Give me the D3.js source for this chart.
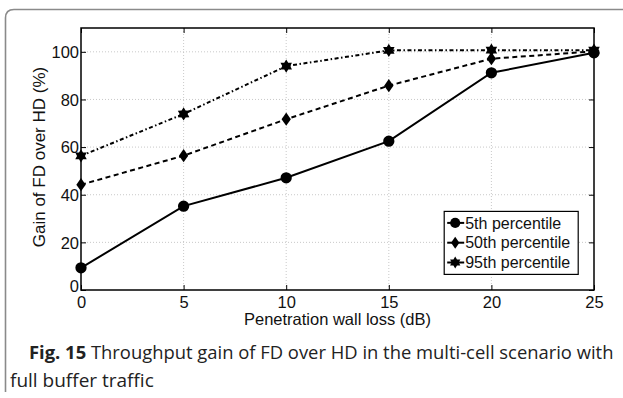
<!DOCTYPE html>
<html>
<head>
<script src="https://d3js.org/d3.v7.min.js"></script>
<style>
  body { margin: 0; background: #fff; }
  svg { display: block; }
</style>
</head>
<body>
<svg id="chart" width="623" height="398"></svg>
<script>
// data
var wallLoss = [0, 5, 10, 15, 20, 25];
var p5  = [9.3, 35.2, 47.1, 62.5, 91.2, 99.6];
var p50 = [44.2, 56.4, 71.7, 85.8, 97.1, 100.2];
var p95 = [56.3, 73.9, 94.0, 100.6, 100.7, 100.7];
var seriesNames = ["5th percentile", "50th percentile", "95th percentile"];
var xTicks = [0, 5, 10, 15, 20, 25];
var yTicks = [0, 20, 40, 60, 80, 100];

var svg = d3.select("#chart");
var font = "'Liberation Sans', Arial, sans-serif";

// outer frame (rounded top-left corner, cut off at right / bottom)
svg.append("path")
   .attr("d", "M5.5,392 L5.5,18 Q5.5,9.5 14,9.5 L623,9.5")
   .attr("fill", "none")
   .attr("stroke", "#8a8a8a")
   .attr("stroke-width", 1.6);

var margin = {left: 81, top: 28, right: 29, bottom: 108};
var w = 623 - margin.left - margin.right,
    h = 398 - margin.top - margin.bottom;

var x = d3.scaleLinear().domain([0, 25]).range([0, w]);
var y = d3.scaleLinear().domain([0, 110]).range([h, 0]);

var g = svg.append("g").attr("transform", "translate(" + margin.left + "," + margin.top + ")");

// grid
g.selectAll(".vgrid").data(xTicks.slice(1, -1)).enter().append("line")
  .attr("x1", d => x(d)).attr("x2", d => x(d))
  .attr("y1", 0).attr("y2", h)
  .attr("stroke", "#bbb").attr("stroke-width", 0.8).attr("stroke-dasharray", "1,2");
g.selectAll(".hgrid").data(yTicks.slice(1)).enter().append("line")
  .attr("x1", 0).attr("x2", w)
  .attr("y1", d => y(d)).attr("y2", d => y(d))
  .attr("stroke", "#bbb").attr("stroke-width", 0.8).attr("stroke-dasharray", "1,2");

// axes, ticks pointing inward
function styleAxis(sel) {
  sel.attr("font-family", font).attr("font-size", 16.5);
  sel.select(".domain").remove();
  sel.selectAll(".tick line").attr("stroke", "#000").attr("stroke-width", 1);
  sel.selectAll("text").attr("fill", "#111");
}
g.append("g").attr("transform", "translate(0," + h + ")")
  .call(d3.axisBottom(x).tickValues(xTicks).tickSizeInner(-5).tickSizeOuter(0).tickPadding(6))
  .call(styleAxis)
  .selectAll("text").attr("dy", "0.75em");
g.append("g")
  .call(d3.axisTop(x).tickValues(xTicks).tickSizeInner(-5).tickSizeOuter(0).tickFormat(""))
  .call(styleAxis);
g.append("g")
  .call(d3.axisLeft(y).tickValues(yTicks).tickSizeInner(-5).tickSizeOuter(0).tickPadding(2))
  .call(styleAxis)
  .selectAll("text").attr("dy", function(d) { return d === 0 ? "0.1em" : "0.35em"; });
g.append("g").attr("transform", "translate(" + w + ",0)")
  .call(d3.axisRight(y).tickValues(yTicks).tickSizeInner(-5).tickSizeOuter(0).tickFormat(""))
  .call(styleAxis);

g.append("rect").attr("width", w).attr("height", h)
  .attr("fill", "none").attr("stroke", "#000").attr("stroke-width", 1.5);

// markers
var hexagram = {
  draw: function(ctx, size) {
    var r = Math.sqrt(size) * 0.72, ri = r * 0.6;
    for (var i = 0; i < 12; i++) {
      var a = Math.PI / 6 * i - Math.PI / 2;
      var rr = i % 2 === 0 ? r : ri;
      if (i === 0) ctx.moveTo(rr * Math.cos(a), rr * Math.sin(a));
      else ctx.lineTo(rr * Math.cos(a), rr * Math.sin(a));
    }
    ctx.closePath();
  }
};
var diamond = {
  draw: function(ctx, size) {
    var r = Math.sqrt(size) * 0.62;
    ctx.moveTo(0, -r); ctx.lineTo(r * 0.7, 0); ctx.lineTo(0, r); ctx.lineTo(-r * 0.7, 0); ctx.closePath();
  }
};

var series = [
  {name: seriesNames[0], values: p5,  dash: null,            sym: d3.symbolCircle, size: 100},
  {name: seriesNames[1], values: p50, dash: "5,3.5",         sym: diamond,         size: 115},
  {name: seriesNames[2], values: p95, dash: "4,2.5,1.5,2.5", sym: hexagram,        size: 85}
];

var line = d3.line().x((d, i) => x(wallLoss[i])).y(d => y(d));

series.slice().reverse().forEach(function(s) {
  g.append("path").datum(s.values)
    .attr("d", line)
    .attr("fill", "none").attr("stroke", "#000").attr("stroke-width", 2)
    .attr("stroke-dasharray", s.dash);
  g.selectAll(null).data(s.values).enter().append("path")
    .attr("transform", (d, i) => "translate(" + x(wallLoss[i]) + "," + y(d) + ")")
    .attr("d", d3.symbol().type(s.sym).size(s.size))
    .attr("fill", "#000");
});

// legend
var leg = g.append("g").attr("transform", "translate(" + (x(17.7)) + "," + (y(33)) + ")");
leg.append("rect").attr("width", 134).attr("height", 63)
  .attr("fill", "#fff").attr("stroke", "#000").attr("stroke-width", 1.2);
series.forEach(function(s, i) {
  var row = leg.append("g").attr("transform", "translate(0," + (11.5 + i * 19.8) + ")");
  row.append("line").attr("x1", 3).attr("x2", 20).attr("stroke", "#000").attr("stroke-width", 2);
  row.append("path").attr("transform", "translate(11,0)")
    .attr("d", d3.symbol().type(s.sym).size(s.size * 0.8)).attr("fill", "#000");
  row.append("text").attr("x", 21).attr("dy", "0.36em")
    .attr("font-family", font).attr("font-size", 16).attr("fill", "#111").text(s.name);
});

// axis titles
g.append("text").attr("x", w / 2).attr("y", h + 35).attr("text-anchor", "middle")
  .attr("font-family", font).attr("font-size", 16.5).attr("fill", "#111")
  .text("Penetration wall loss (dB)");
g.append("text").attr("transform", "translate(-36," + (h / 2 - 2) + ") rotate(-90)")
  .attr("text-anchor", "middle")
  .attr("font-family", font).attr("font-size", 17).attr("fill", "#111")
  .text("Gain of FD over HD (%)");

// caption
var cap = svg.append("text").attr("x", 29).attr("y", 359)
  .attr("font-family", "'Open Sans', sans-serif").attr("font-size", 18.4).attr("fill", "#222");
cap.append("tspan").attr("font-weight", "bold").text("Fig. 15");
cap.append("tspan").text(" Throughput gain of FD over HD in the multi-cell scenario with");
svg.append("text").attr("x", 10).attr("y", 387)
  .attr("font-family", "'Open Sans', sans-serif").attr("font-size", 19).attr("fill", "#222")
  .text("full buffer traffic");
</script>
</body>
</html>
